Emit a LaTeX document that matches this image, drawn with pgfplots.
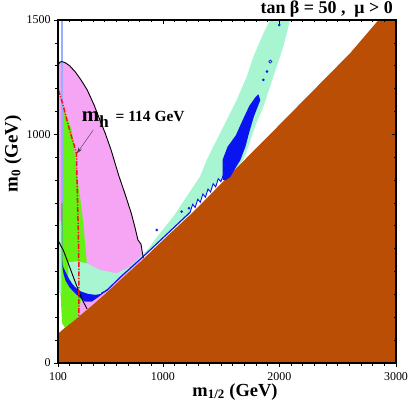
\documentclass[border=0pt]{standalone}
\usepackage{fontspec}
\setmainfont{Liberation Serif}
\usepackage{pgfplots}
\pgfplotsset{compat=1.18}
\usetikzlibrary{arrows.meta}
\definecolor{brownc}{RGB}{186,78,5}
\definecolor{pinkc}{RGB}{246,164,244}
\definecolor{greenc}{RGB}{102,240,20}
\definecolor{aquac}{RGB}{168,245,210}
\definecolor{bluec}{RGB}{10,20,240}
\definecolor{lblue}{RGB}{150,175,255}
\definecolor{redc}{RGB}{240,20,20}
\begin{document}
\begin{tikzpicture}
\begin{axis}[name=ax, scale only axis, width=338bp, height=343bp,
  xmin=100, xmax=3000, ymin=0, ymax=1500,
  xtick={100,1000,2000,3000}, xticklabels={100,1000,2000,3000},
  ytick={0,1000,1500}, yticklabels={0,1000,1500},
  scaled ticks=false,
  minor xtick={200,300,...,2900}, minor ytick={100,200,...,1400},
  tick align=outside, xtick pos=left, ytick pos=left,
  major tick length=4bp, minor tick length=2.5bp,
  tick style={black, line width=0.7bp},
  axis line style={line width=1.1bp},
  ticklabel style={font=\fontsize{12}{14}\selectfont},
  xticklabel style={yshift=-2bp},
  /pgf/number format/assume math mode=true,
  axis on top,
]
% pink (g-2) region
\addplot[fill=pinkc, draw=none] coordinates {(100,1302)(115,1315)(132,1318)(160,1314)(200,1300)(250,1272)(300,1236)(350,1195)(410,1128)(465,1055)(505,1005)(556,931)(620,822)(678,735)(728,656)(762,590)(786,538)(812,520)(832,458)(632,362)(500,300)(400,255)(300,212)(250,190)(200,170)(150,300)(130,620)(100,620)} -- cycle;
% green region
\addplot[fill=greenc, draw=none] coordinates {(128,1060)(140,1095)(152,1110)(170,1085)(195,1050)(218,1019)(246,902)(260,829)(289,727)(317,612)(332,525)(346,450)(346,340)(300,280)(278,230)(272,200)(250,190)(200,170)(160,154)(135,175)(122,306)(125,500)(130,800)} -- cycle;
% aqua regions
\addplot[fill=aquac, draw=none] coordinates {(100,620)(130,620)(128,306)(100,306)} -- cycle;
\addplot[fill=aquac, draw=none] coordinates {(188,440)(260,445)(346,436)(460,407)(604,392)(718,421)(775,450)(832,478)(861,490)(975,568)(1090,641)(1204,728)(1318,815)(1376,888)(1432,946)(1490,1004)(1576,1092)(1633,1150)(1719,1252)(1776,1339)(1862,1441)(1919,1500)(2091,1500)(2033,1383)(1976,1296)(1919,1208)(1862,1121)(1790,1033)(1733,946)(1690,888)(1647,859)(1500,790)(1318,697)(1233,655)(1000,545)(832,467)(632,375)(500,314)(446,292)(389,270)(332,268)(246,305)(200,330)(188,340)} -- cycle;
% brown excluded region
\addplot[fill=brownc, draw=none] coordinates {(100,0)(100,128)(150,150)(200,170)(250,190)(300,212)(400,255)(500,300)(632,362)(832,455)(1000,537)(1233,648)(1318,691)(1500,785)(1919,1000)(2200,1145)(2605,1354)(2850,1500)(3000,1500)(3000,0)} -- cycle;
% white gaps under zigzag
\addplot[fill=white, draw=none] coordinates {(1233,649)(1519,796)(1519,822)(1497,793)(1475,806)(1453,770)(1431,784)(1409,748)(1387,761)(1365,725)(1343,739)(1321,703)(1299,716)(1277,680)(1255,694)(1233,658)} -- cycle;
% blue band (lower left)
\addplot[fill=bluec, draw=none] coordinates {(135,445)(145,420)(165,398)(190,372)(220,348)(260,325)(300,312)(360,302)(420,298)(470,302)(520,322)(500,310)(440,286)(389,268)(332,268)(290,285)(246,305)(200,330)(165,360)(150,385)(140,410)} -- cycle;
% blue blob
\addplot[fill=bluec, draw=none] coordinates {(1512,800)(1512,888)(1555,946)(1625,995)(1685,1063)(1742,1125)(1795,1163)(1819,1175)(1836,1150)(1780,1077)(1738,1004)(1708,946)(1665,888)(1622,852)(1580,815)(1540,800)} -- cycle;
% thin blue line along boundary and zigzag
\addplot[bluec, line width=1.2bp] coordinates {(470,304)(520,318)(632,374)(832,466)(1000,547)(1233,659)};
\addplot[bluec, line width=0.9bp] coordinates {(1233,658)(1255,694)(1277,680)(1299,716)(1321,703)(1343,739)(1365,725)(1387,761)(1409,748)(1431,784)(1453,770)(1475,806)(1497,793)(1519,822)};
% blue dots
\addplot[only marks, mark=*, mark size=1.1bp, bluec] coordinates {(1862,1238)(1893,1275)(947,582)(1161,662)(1224,677)(1999,1478)};
\addplot[only marks, mark=o, mark size=1.6bp, bluec, line width=0.6bp] coordinates {(1922,1318)};
% light blue vertical line
\addplot[lblue, line width=1.2bp] coordinates {(134,1500)(134,700)};
\addplot[bluec!70!white, line width=0.6bp] coordinates {(134,700)(136,440)};
% black contours
\addplot[black, line width=0.9bp] coordinates {(100,1302)(115,1315)(132,1318)(160,1314)(200,1300)(250,1272)(300,1236)(350,1195)(410,1128)(465,1055)(505,1005)(556,931)(620,822)(678,735)(728,656)(762,590)(786,538)(812,520)(832,458)};
\addplot[black, line width=0.9bp] coordinates {(100,531)(110,528)(125,512)(145,494)(188,436)(231,377)(274,319)(317,268)(350,236)};
% red m_h = 114 GeV line
\addplot[redc, line width=1.5bp, dash pattern=on 5bp off 1.5bp on 1.2bp off 1.5bp] coordinates {(103,1194)(140,1135)(175,1065)(210,1000)(240,950)(258,915)(263,800)(268,700)(274,582)(278,450)(280,330)(280,205)};
% arrow and label
\addplot[black!75, line width=0.4bp, -{Stealth[length=6bp,width=4bp]}] coordinates {(403,1019)(262,917)};
\node[anchor=base west, inner sep=0pt, font=\bfseries] at (axis cs:303,1058) {{\fontsize{21}{24}\selectfont m}\raisebox{-6bp}{\fontsize{17}{20}\selectfont h}\hspace{7bp}{\fontsize{15.5}{18}\selectfont = 114 GeV}};
\end{axis}
\begin{axis}[at={(ax.south west)}, anchor=south west, scale only axis, width=338bp, height=343bp,
  xmin=100, xmax=3000, ymin=0, ymax=1500,
  xtick={100,1000,2000,3000}, ytick={0,1000,1500},
  xticklabels={}, yticklabels={}, scaled ticks=false,
  minor xtick={200,300,...,2900}, minor ytick={100,200,...,1400},
  tick align=inside, xtick pos=right, ytick pos=right,
  major tick length=4bp, minor tick length=2.5bp,
  tick style={black, line width=0.7bp},
  axis line style={line width=1.1bp},
]
\end{axis}
\node[anchor=base east, inner sep=0pt, font=\bfseries\fontsize{18}{21}\selectfont] at ([xshift=-3bp,yshift=6.7bp]ax.north east) {tan β = 50 ,\enspace μ > 0};
\node[anchor=base, inner sep=0pt, font=\bfseries\fontsize{18.5}{22}\selectfont] at ([xshift=177bp,yshift=-33bp]ax.south west) {m\textsubscript{1/2} (GeV)};
\node[anchor=base, inner sep=0pt, rotate=90, font=\bfseries\fontsize{19}{23}\selectfont] at ([xshift=-40.5bp,yshift=209bp]ax.south west) {m\textsubscript{0} (GeV)};
\pgfresetboundingbox
\path ([xshift=-58bp,yshift=-46bp]ax.south west) rectangle ([xshift=13bp,yshift=20bp]ax.north east);
\end{tikzpicture}
\end{document}
